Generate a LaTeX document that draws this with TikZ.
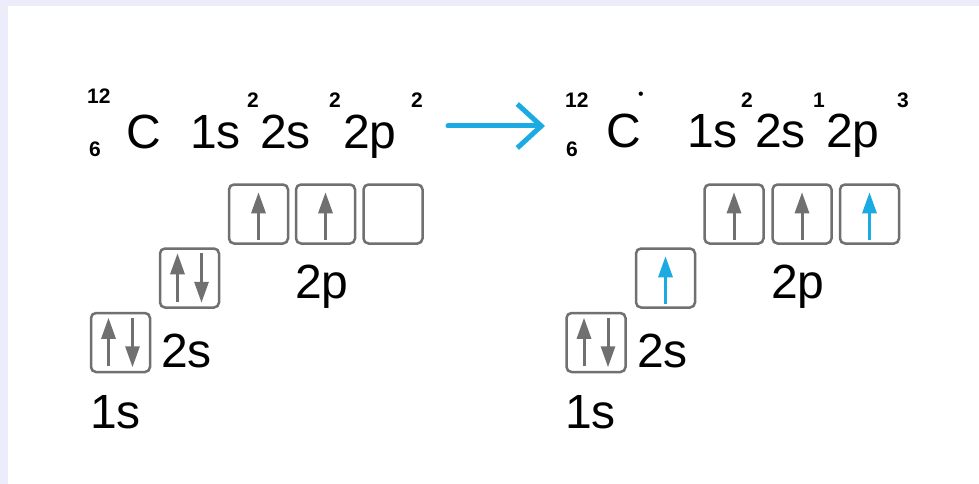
\documentclass[tikz,border=0pt]{standalone}
\usepackage{fontspec}
\setmainfont{Liberation Sans}
\usetikzlibrary{arrows.meta,calc}
\definecolor{lav}{RGB}{236,236,250}
\definecolor{boxgray}{RGB}{112,112,112}
\definecolor{eblue}{RGB}{27,170,226}
\tikzset{
  big/.style={inner sep=0pt, anchor=base west, font=\fontsize{48}{48}\selectfont, text=black},
  sup/.style={inner sep=0pt, anchor=base west, font=\fontsize{21}{21}\selectfont\bfseries, text=black},
  orb/.style={draw=boxgray, line width=2.5pt, rounded corners=5pt, minimum width=59pt, minimum height=59pt, inner sep=0pt},
  eup/.style={draw=boxgray, line width=3pt, -{Triangle[length=21pt,width=14pt]}},
  eupb/.style={draw=eblue, line width=3pt, -{Triangle[length=21pt,width=14pt]}},
  react/.style={draw=eblue, line width=5pt, line cap=round, line join=round, -{Straight Barb[length=24pt,width=44pt,line width=5pt]}}
}
\begin{document}
\begin{tikzpicture}[x=1pt,y=-1pt]
\useasboundingbox (0,0) rectangle (979,484);
\fill[lav] (0,0) rectangle (979,484);
\fill[white] (8,6) rectangle (979,484);
% left formula
\node[sup] (lA) at (87,103) {12};
\node[sup] (lZ) at (89,157) {6};
\node[big] (lC) at (126,148) {C};
\node[big] (l1s) at (190,148) {1s};
\node[sup] (l1se) at (247,108) {2};
\node[big] (l2s) at (260,148) {2s};
\node[sup] (l2se) at (329,108) {2};
\node[big] (l2p) at (343,148) {2p};
\node[sup] (l2pe) at (411,108) {2};
% right formula
\node[sup] (rA) at (565,107) {12};
\node[sup] (rZ) at (566,157) {6};
\node[big] (rC) at (606,147) {C};
\node[inner sep=0pt, anchor=base west, font=\fontsize{16}{16}\selectfont, text=black] (rstar) at (638,100) {•};
\node[big] (r1s) at (687,147) {1s};
\node[sup] (r1se) at (741,108) {2};
\node[big] (r2s) at (755,147) {2s};
\node[sup] (r2se) at (813,108) {1};
\node[big] (r2p) at (826,147) {2p};
\node[sup] (r2pe) at (897,108) {3};
% reaction arrow
\coordinate (arrL) at (448,126);
\coordinate (arrR) at (545,126);
\draw[react] (arrL) -- (arrR);
% left orbitals
\node[orb] (L1s) at (120.5,342.5) {};
\node[orb] (L2s) at (189.5,278) {};
\node[orb] (L2pa) at (258.5,214) {};
\node[orb] (L2pb) at (325.5,214) {};
\node[orb] (L2pc) at (393,214) {};
\draw[eup] ($(L1s.south)+(-12,-7)$) -- ($(L1s.north)+(-12,6)$);
\draw[eup] ($(L1s.north)+(12,6)$) -- ($(L1s.south)+(12,-6)$);
\draw[eup] ($(L2s.south)+(-12,-7)$) -- ($(L2s.north)+(-12,6)$);
\draw[eup] ($(L2s.north)+(12,6)$) -- ($(L2s.south)+(12,-6)$);
\draw[eup] ($(L2pa.south)+(0,-5)$) -- ($(L2pa.north)+(0,9)$);
\draw[eup] ($(L2pb.south)+(0,-5)$) -- ($(L2pb.north)+(0,9)$);
\node[big] (L1sl) at (90,428) {1s};
\node[big] (L2sl) at (161,367) {2s};
\node[big] (L2pl) at (295,298) {2p};
% right orbitals
\node[orb] (R1s) at (596,342.5) {};
\node[orb] (R2s) at (665.5,278) {};
\node[orb] (R2pa) at (734,214) {};
\node[orb] (R2pb) at (802,214) {};
\node[orb] (R2pc) at (869.5,214) {};
\draw[eup] ($(R1s.south)+(-12,-7)$) -- ($(R1s.north)+(-12,6)$);
\draw[eup] ($(R1s.north)+(12,6)$) -- ($(R1s.south)+(12,-6)$);
\draw[eupb] ($(R2s.south)+(0,-5)$) -- ($(R2s.north)+(0,9)$);
\draw[eup] ($(R2pa.south)+(0,-5)$) -- ($(R2pa.north)+(0,9)$);
\draw[eup] ($(R2pb.south)+(0,-5)$) -- ($(R2pb.north)+(0,9)$);
\draw[eupb] ($(R2pc.south)+(0,-5)$) -- ($(R2pc.north)+(0,9)$);
\node[big] (R1sl) at (565,428) {1s};
\node[big] (R2sl) at (637,367) {2s};
\node[big] (R2pl) at (771,298) {2p};
\end{tikzpicture}
\end{document}
